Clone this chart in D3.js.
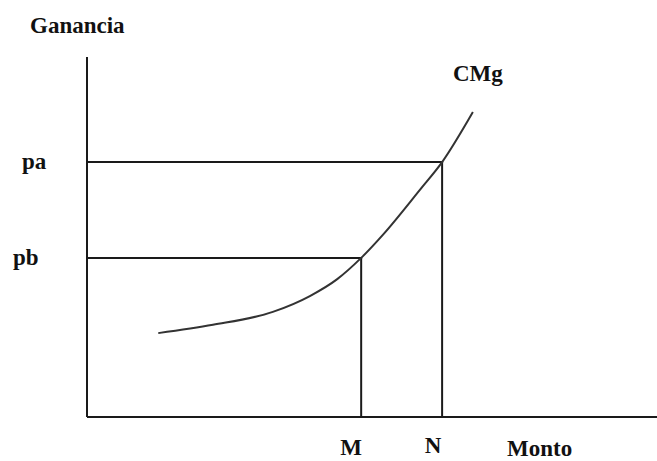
<!DOCTYPE html>
<html>
<head>
<meta charset="utf-8">
<script src="https://cdn.jsdelivr.net/npm/d3@7"></script>
<style>
  html, body { margin: 0; padding: 0; background: #fff; overflow: hidden; }
  text { font-family: "Liberation Serif", "Times New Roman", serif; font-weight: bold; font-size: 23px; fill: #111; }
</style>
</head>
<body>
<svg id="chart" width="657" height="461"></svg>
<script>
// Data (abstract units)
const curveX = [1.25, 2.21, 3.26, 3.91, 4.39, 4.81, 5.19, 5.84, 6.23, 6.77];
const curveY = [2.33, 2.56, 2.92, 3.36, 3.83, 4.42, 5.06, 6.31, 7.08, 8.47];
const priceLabels = ["pa", "pb"];
const priceValues = [7.08, 4.42];
const qtyLabels = ["N", "M"];
const qtyValues = [6.23, 4.81];
const curveLabel = "CMg";
const yTitle = "Ganancia";
const xTitle = "Monto";

const svg = d3.select("#chart");
const x = d3.scaleLinear().domain([0, 10]).range([87, 657]);
const y = d3.scaleLinear().domain([0, 10]).range([417, 57]);

const ink = "#1a1a1a";

// axes
svg.append("line").attr("x1", x(0)).attr("x2", x(0)).attr("y1", y(10)).attr("y2", y(0))
  .attr("stroke", ink).attr("stroke-width", 2);
svg.append("line").attr("x1", x(0)).attr("x2", x(10)).attr("y1", y(0)).attr("y2", y(0))
  .attr("stroke", ink).attr("stroke-width", 2);

// guide lines
priceValues.forEach((p, i) => {
  const q = qtyValues[i];
  svg.append("line").attr("x1", x(0)).attr("x2", x(q) + 1).attr("y1", y(p)).attr("y2", y(p))
    .attr("stroke", ink).attr("stroke-width", 2);
  svg.append("line").attr("x1", x(q)).attr("x2", x(q)).attr("y1", y(p)).attr("y2", y(0))
    .attr("stroke", ink).attr("stroke-width", 2);
});

// curve
const pts = curveX.map((v, i) => [v, curveY[i]]);
const line = d3.line().x(d => x(d[0])).y(d => y(d[1])).curve(d3.curveMonotoneX);
svg.append("path").attr("d", line(pts)).attr("fill", "none")
  .attr("stroke", "#333").attr("stroke-width", 2);

// labels
svg.append("text").attr("x", 30).attr("y", 33).text(yTitle);
svg.append("text").attr("x", 453).attr("y", 81).text(curveLabel);
svg.append("text").attr("x", 507).attr("y", 456).text(xTitle);

const pLabelX = [22, 13];
priceLabels.forEach((t, i) => {
  svg.append("text").attr("x", pLabelX[i]).attr("y", y(priceValues[i]) + 7).text(t);
});
const qLabelDx = [-9, -10];
qtyLabels.forEach((t, i) => {
  svg.append("text").attr("x", x(qtyValues[i]) + qLabelDx[i]).attr("y", i === 0 ? 453 : 455)
    .attr("text-anchor", "middle").text(t);
});
</script>
</body>
</html>
